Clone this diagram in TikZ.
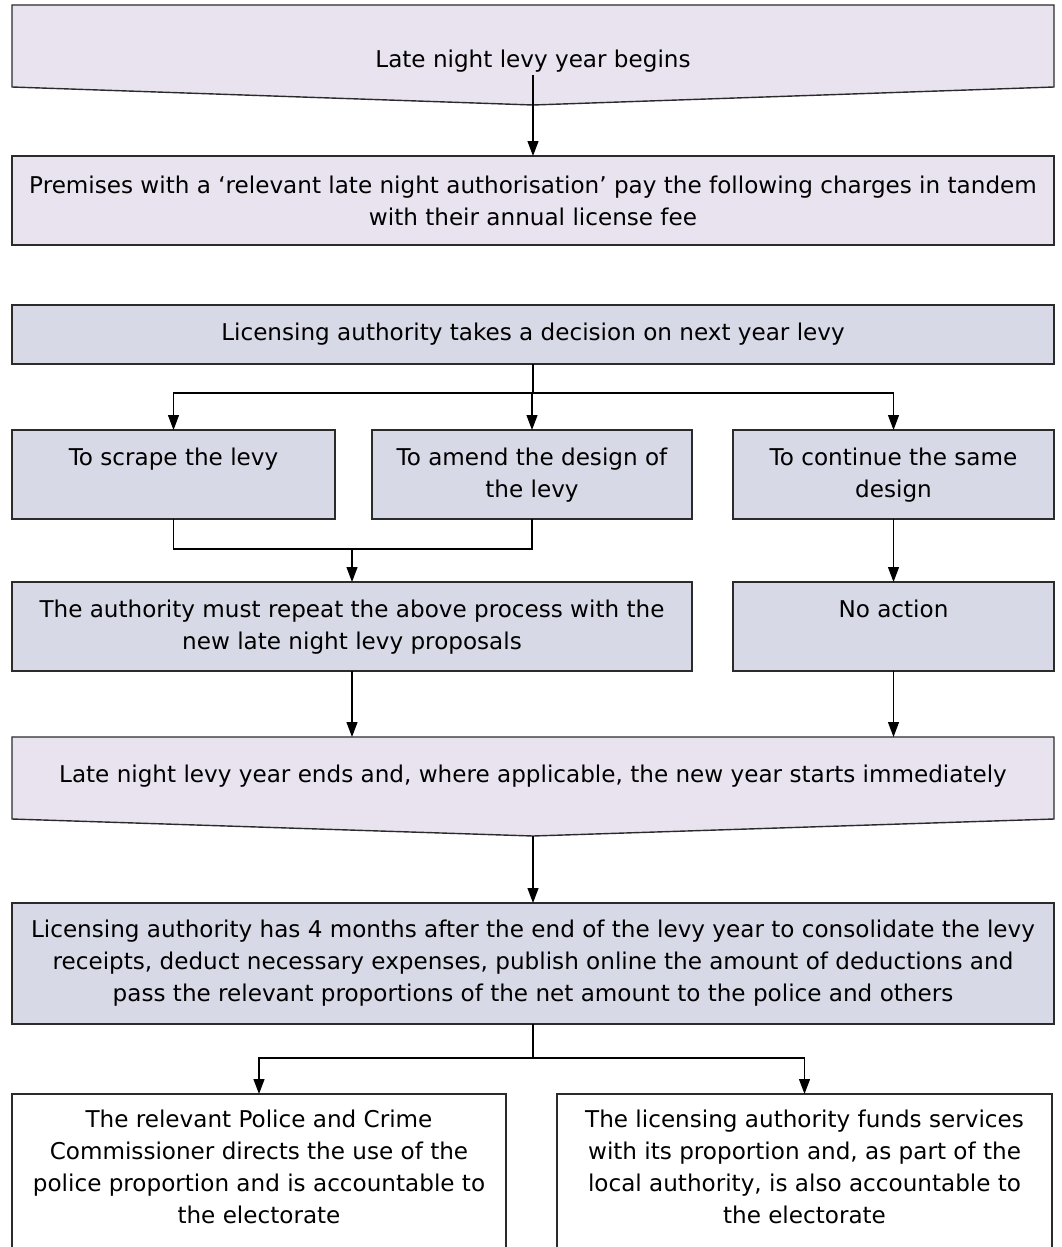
\documentclass[tikz,border=0pt]{standalone}
\usepackage{fontspec}
\setmainfont{DejaVu Sans}
\usetikzlibrary{arrows.meta,calc}
\definecolor{lavc}{HTML}{E8E3EF}
\definecolor{bluc}{HTML}{D8D9E6}
\definecolor{edgec}{HTML}{2B2B2B}
\newcommand\topbox[4]{\parbox[c][#2][t]{#1}{\centering\vspace*{#3}\strut #4\par}}
\newcommand\midbox[3]{\parbox[c][#2][c]{#1}{\centering #3\par}}
\tikzset{
  every node/.style={font=\fontsize{23.1}{32}\selectfont, inner sep=0pt, outer sep=0pt},
  box/.style={draw=edgec, line width=1.4pt, anchor=north west},
  lav/.style={box, fill=lavc},
  blu/.style={box, fill=bluc},
  wht/.style={box, fill=white},
  pent/.style={draw=edgec, line width=1.4pt, fill=lavc, line join=miter},
  area/.style={anchor=north west, minimum width=1042pt, minimum height=82pt},
  arr/.style={draw=black, line width=1.2pt, -{Triangle[length=15pt,width=11pt]}},
  ln/.style={draw=black, line width=1.2pt}
}
\begin{document}
\begin{tikzpicture}[x=1pt,y=-1pt]
\useasboundingbox (0,0) rectangle (1061,1247);
\clip (0,0) rectangle (1061,1247);
\fill[white] (0,0) rectangle (1061,1247);
% first pentagon
\node[area] (p1) at (12,5) {};
\coordinate (p1apex) at (533,105);
\draw[pent] (p1.north west) -- (p1.north east) -- (p1.south east) -- (p1apex) -- (p1.south west) -- cycle;
\node (t1) at (533,61) {Late night levy year begins};
\coordinate (p1s) at (533,75);
% boxes
\node[lav] (b2) at (12,156) {\midbox{1042pt}{89pt}{Premises with a ‘relevant late night authorisation’ pay the following charges in tandem\\ with their annual license fee}};
\node[blu] (b3) at (12,305) {\midbox{1042pt}{59pt}{Licensing authority takes a decision on next year levy}};
\node[blu] (scrape) at (12,430) {\topbox{323pt}{89pt}{12.6pt}{To scrape the levy}};
\node[blu] (amend) at (372,430) {\topbox{320pt}{89pt}{12.6pt}{To amend the design of\\ the levy}};
\node[blu] (cont) at (733,430) {\topbox{321pt}{89pt}{12.6pt}{To continue the same\\ design}};
\node[blu] (repeat) at (12,582) {\topbox{680pt}{89pt}{13.5pt}{The authority must repeat the above process with the\\ new late night levy proposals}};
\node[blu] (noact) at (733,582) {\topbox{321pt}{89pt}{13.5pt}{No action}};
% second pentagon
\node[area] (p2) at (12,737) {};
\coordinate (p2apex) at (533,836);
\draw[pent] (p2.north west) -- (p2.north east) -- (p2.south east) -- (p2apex) -- (p2.south west) -- cycle;
\node (t2) at (533,776) {Late night levy year ends and, where applicable, the new year starts immediately};
\node[blu] (b4) at (12,903) {\midbox{1042pt}{121pt}{Licensing authority has 4 months after the end of the levy year to consolidate the levy\\ receipts, deduct necessary expenses, publish online the amount of deductions and\\ pass the relevant proportions of the net amount to the police and others}};
\node[wht] (pol) at (12,1094) {\topbox{494pt}{170pt}{11pt}{The relevant Police and Crime\\ Commissioner directs the use of the\\ police proportion and is accountable to\\ the electorate}};
\node[wht] (lic) at (557,1094) {\topbox{495pt}{170pt}{11pt}{The licensing authority funds services\\ with its proportion and, as part of the\\ local authority, is also accountable to\\ the electorate}};
% connectors
\draw[arr] (p1s) -- (b2.north);
\coordinate (j1) at (533,393);
\draw[ln] (b3.south) -- (j1);
\draw[arr] (j1) -- (j1 -| amend.north) -- (amend.north);
\draw[arr] (j1) -| (scrape.north);
\draw[arr] (j1) -| (cont.north);
\coordinate (j2) at (352,549);
\draw[ln] (scrape.south) |- (j2) -| (amend.south);
\draw[arr] (j2) -- (repeat.north);
\draw[arr] (cont.south) -- (noact.north);
\draw[arr] (repeat.south) -- (repeat.south |- p2.north);
\draw[arr] (noact.south) -- (noact.south |- p2.north);
\draw[arr] (p2apex) -- (b4.north);
\coordinate (j3) at (533,1058);
\draw[ln] (b4.south) -- (j3);
\draw[arr] (j3) -| (pol.north);
\draw[arr] (j3) -| (lic.north);
\end{tikzpicture}
\end{document}
